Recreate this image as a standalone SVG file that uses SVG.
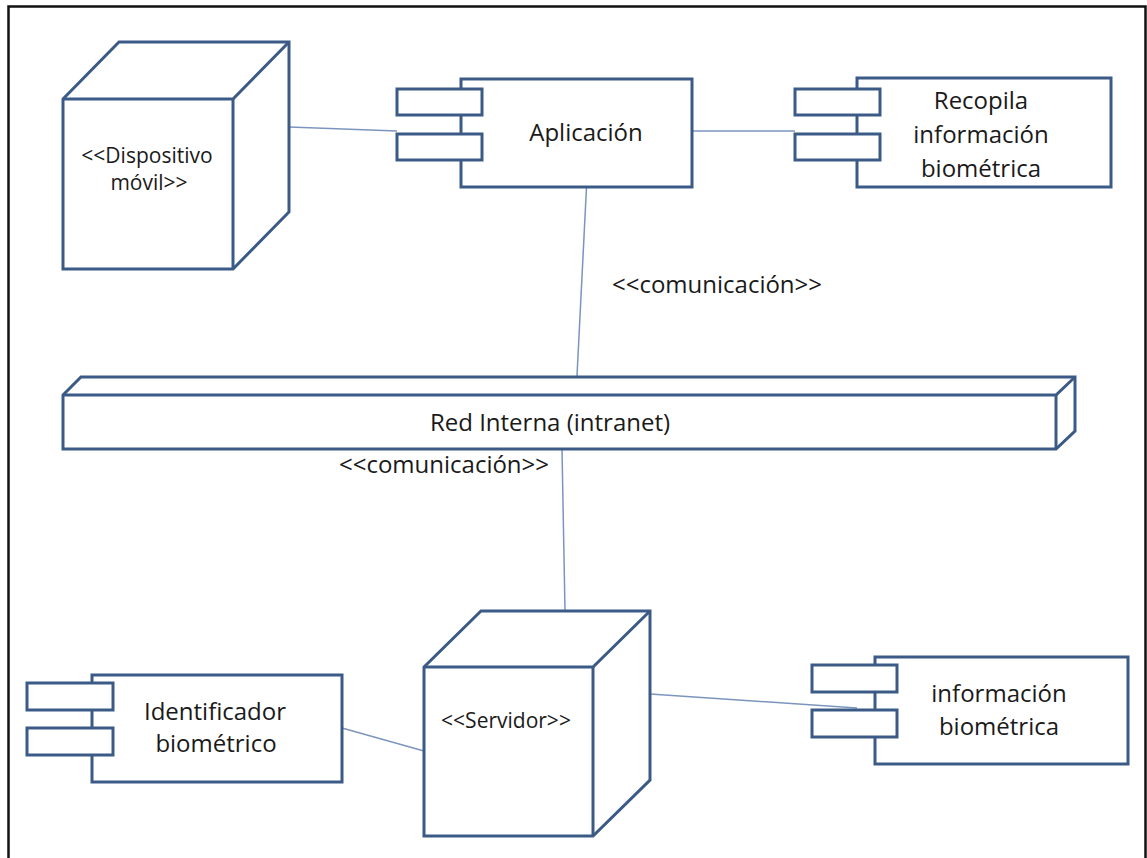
<svg xmlns="http://www.w3.org/2000/svg" width="1147" height="858" viewBox="0 0 1147 858">
  <defs>
    <style>
      .frame { fill: none; stroke: #111; stroke-width: 2.5; }
      .shape { fill: #fff; stroke: #3b5a85; stroke-width: 3; stroke-linejoin: miter; }
      .fold { fill: none; stroke: #3b5a85; stroke-width: 3; stroke-linejoin: miter; }
      .edge { fill: none; stroke: #7b95bf; stroke-width: 1.5; }
      .lbl { font-family: "Open Sans", "Liberation Sans", sans-serif; font-size: 24px; fill: #1a1a1a; text-anchor: middle; }
      .st { font-size: 21px; }
    </style>
  </defs>

  <rect width="1147" height="858" fill="#fff"/>
  <rect class="frame" x="8.5" y="6.5" width="1137" height="862"/>

  <!-- connectors -->
  <g id="connectors">
    <line class="edge" x1="289" y1="127" x2="397" y2="131"/>
    <line class="edge" x1="692" y1="131" x2="795" y2="131"/>
    <line class="edge" x1="586.5" y1="187" x2="577" y2="376"/>
    <line class="edge" x1="562" y1="449" x2="565" y2="611"/>
    <line class="edge" x1="342" y1="728" x2="424" y2="751"/>
    <line class="edge" x1="650" y1="694" x2="857" y2="708"/>
  </g>

  <!-- node: mobile device -->
  <g id="dispositivo">
    <polygon class="shape" points="63,99 119,42 289,42 289,212 233,269 63,269"/>
    <polyline class="fold" points="63,99 233,99 289,42"/>
    <line class="fold" x1="233" y1="99" x2="233" y2="269"/>
    <text class="lbl st" x="147" y="163">&lt;&lt;Dispositivo</text>
    <text class="lbl st" x="149" y="190">móvil&gt;&gt;</text>
  </g>

  <!-- component: application -->
  <g id="aplicacion">
    <rect class="shape" x="461" y="79" width="231" height="108"/>
    <rect class="shape" x="397" y="89" width="85" height="26"/>
    <rect class="shape" x="397" y="134" width="85" height="26"/>
    <text class="lbl" x="586" y="141">Aplicación</text>
  </g>

  <!-- component: biometric capture -->
  <g id="recopila">
    <rect class="shape" x="857" y="78" width="254" height="109"/>
    <rect class="shape" x="795" y="89" width="85" height="26"/>
    <rect class="shape" x="795" y="134" width="85" height="26"/>
    <text class="lbl" x="981" y="109">Recopila</text>
    <text class="lbl" x="981" y="143">información</text>
    <text class="lbl" x="981" y="177">biométrica</text>
  </g>

  <!-- node: internal network -->
  <g id="red-interna">
    <polygon class="shape" points="63,395 81,377 1075,377 1075,431 1056,449 63,449"/>
    <polyline class="fold" points="63,395 1056,395 1075,377"/>
    <line class="fold" x1="1056" y1="395" x2="1056" y2="449"/>
    <text class="lbl" x="550" y="431">Red Interna (intranet)</text>
  </g>

  <!-- stereotype labels -->
  <g id="labels">
    <text class="lbl" x="717" y="293">&lt;&lt;comunicación&gt;&gt;</text>
    <text class="lbl" x="444" y="473">&lt;&lt;comunicación&gt;&gt;</text>
  </g>

  <!-- node: server -->
  <g id="servidor">
    <polygon class="shape" points="424,667 481,611 650,611 650,780 593,836 424,836"/>
    <polyline class="fold" points="424,667 593,667 650,611"/>
    <line class="fold" x1="593" y1="667" x2="593" y2="836"/>
    <text class="lbl st" x="506" y="728">&lt;&lt;Servidor&gt;&gt;</text>
  </g>

  <!-- component: biometric identifier -->
  <g id="identificador">
    <rect class="shape" x="92" y="675" width="250" height="107"/>
    <rect class="shape" x="27" y="683" width="86" height="27"/>
    <rect class="shape" x="27" y="728" width="86" height="27"/>
    <text class="lbl" x="215" y="720">Identificador</text>
    <text class="lbl" x="216" y="752">biométrico</text>
  </g>

  <!-- component: biometric information -->
  <g id="informacion">
    <rect class="shape" x="875" y="657" width="253" height="107"/>
    <rect class="shape" x="812" y="665" width="85" height="27"/>
    <rect class="shape" x="812" y="710" width="85" height="27"/>
    <text class="lbl" x="999" y="702">información</text>
    <text class="lbl" x="999" y="735">biométrica</text>
  </g>
</svg>
